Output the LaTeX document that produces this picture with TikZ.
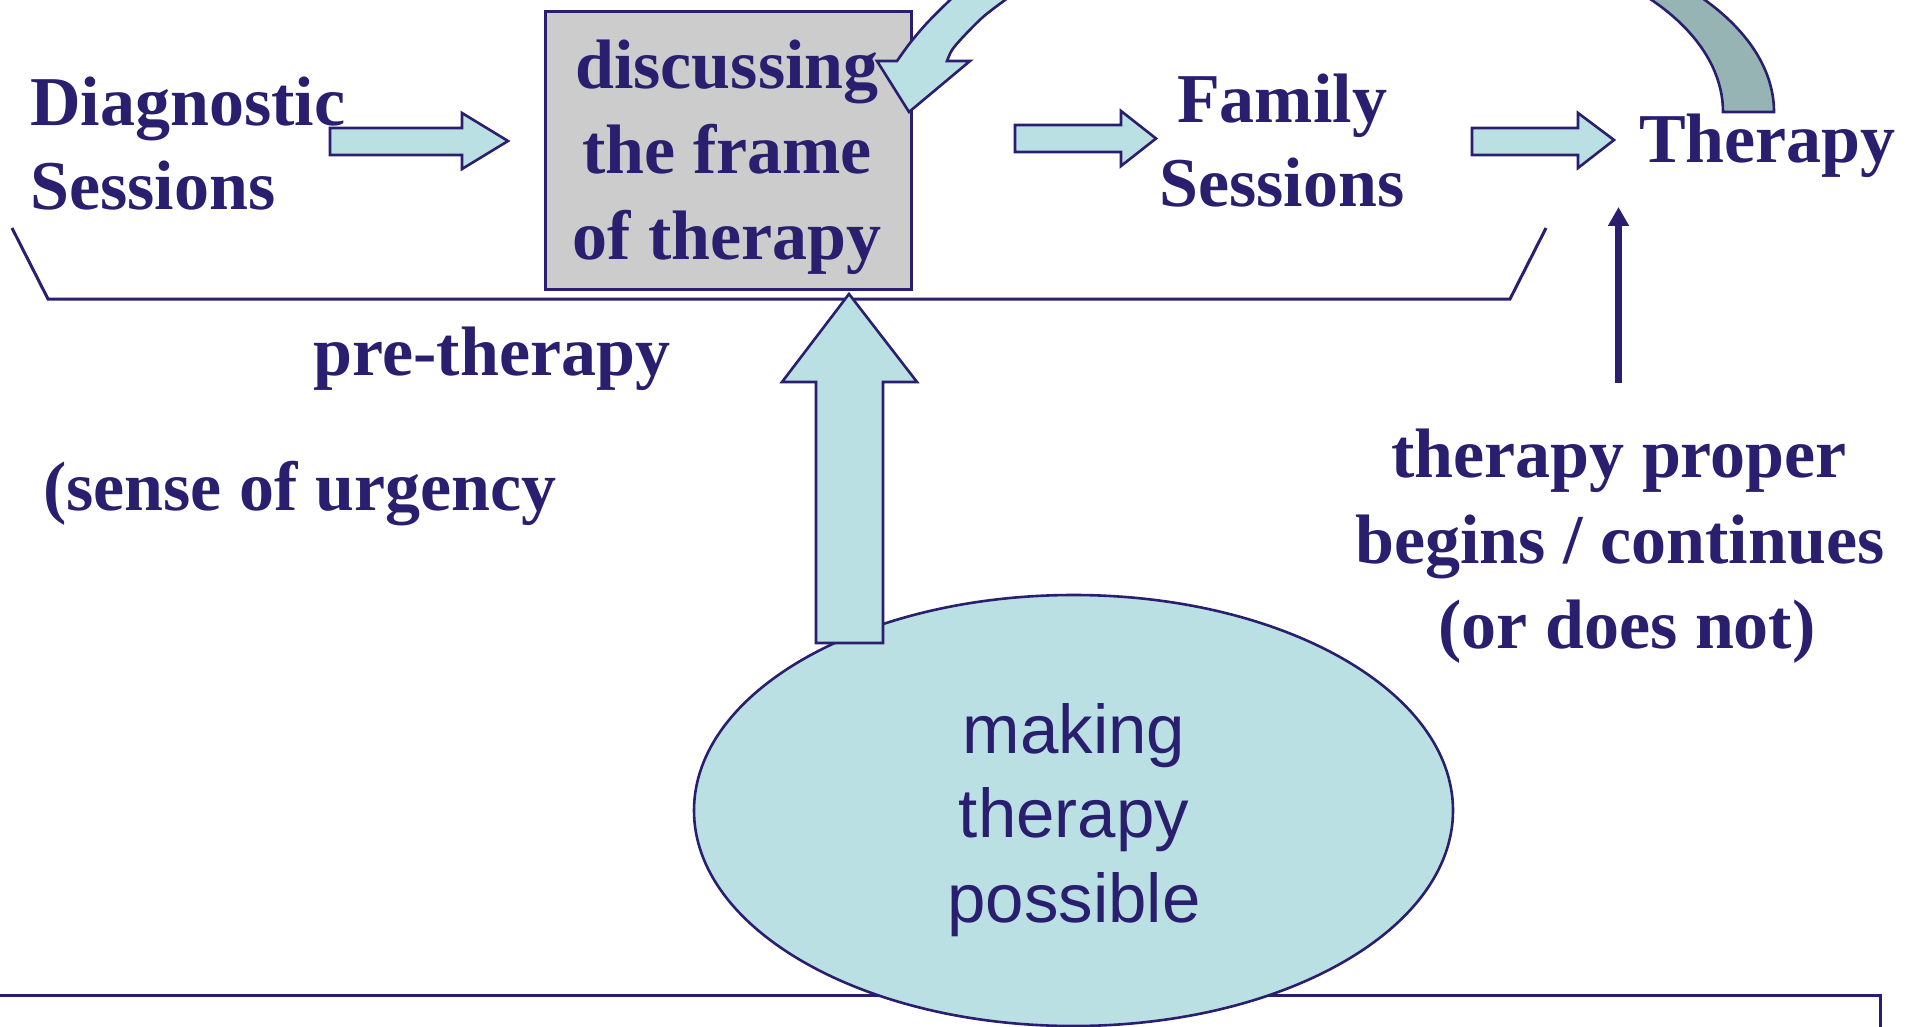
\documentclass[tikz,border=0pt]{standalone}
\usepackage{fontspec}
\setmainfont{Liberation Serif}
\newfontfamily\armsans{Liberation Sans}
\usetikzlibrary{shapes.geometric,arrows.meta}
\definecolor{navy}{HTML}{2A1E6F}
\definecolor{lblue}{HTML}{BAE0E3}
\definecolor{boxgray}{HTML}{CCCCCC}
\definecolor{tealgray}{HTML}{97B4B5}
\begin{document}
\begin{tikzpicture}[x=1pt,y=-1pt,
  serif/.style={font=\bfseries\fontsize{70}{84}\selectfont, text=navy, inner sep=0pt},
  sanstxt/.style={font=\armsans\fontsize{69}{84}\selectfont, text=navy, inner sep=0pt},
  blockarrow/.style={draw=navy, fill=lblue, line width=2.6pt, line join=miter},
  rule/.style={draw=navy, line width=3pt}]
\useasboundingbox (0,0) rectangle (1914,1027);
\clip (0,0) rectangle (1914,1027);
\fill[white] (0,0) rectangle (1914,1027);

% bracket and bottom frame
\coordinate (bl1) at (12,228);
\coordinate (bl2) at (48,299);
\coordinate (br2) at (1510,299);
\coordinate (br1) at (1546,228);
\draw[rule] (bl1) -- (bl2) -- (br2) -- (br1);
\coordinate (fr1) at (-10,995);
\coordinate (fr2) at (1880,995);
\coordinate (fr3) at (1880,1040);
\draw[rule] (fr1) -- (fr2) -- (fr3);

% box
\node[draw=navy, fill=boxgray, line width=2.6pt, minimum width=366pt, minimum height=278pt, anchor=north west, inner sep=0pt] (box) at (544,10) {};
\node[serif, anchor=base] (d1) at (727,89) {discussing};
\node[serif, anchor=base] (d2) at (727,174) {the frame};
\node[serif, anchor=base] (d3) at (727,259) {of therapy};

% texts
\node[serif, anchor=base west] (diag1) at (30,126) {Diagnostic};
\node[serif, anchor=base west] (diag2) at (30,210) {Sessions};
\node[serif, anchor=base] (fam1) at (1282,123) {Family};
\node[serif, anchor=base] (fam2) at (1282,207) {Sessions};
\node[serif, anchor=base west] (ther) at (1639,163) {Therapy};
\node[serif, anchor=base] (pre) at (492,375) {pre-therapy};
\node[serif, anchor=base west] (urg) at (43,510) {(sense of urgency};
\node[serif, anchor=base] (tp1) at (1619,477) {therapy proper};
\node[serif, anchor=base] (tp2) at (1620,563) {begins / continues};
\node[serif, anchor=base] (tp3) at (1627,648) {(or does not)};

% horizontal block arrows
\draw[blockarrow] (330,128) -- (462,128) -- (462,113) -- (508,141) -- (462,169) -- (462,155) -- (330,155) -- cycle;
\draw[blockarrow] (1015,125) -- (1121,125) -- (1121,111) -- (1156,138.5) -- (1121,166) -- (1121,152) -- (1015,152) -- cycle;
\draw[blockarrow] (1472,128) -- (1578,128) -- (1578,113) -- (1614,140) -- (1578,168) -- (1578,155) -- (1472,155) -- cycle;

% curved arrow (left part with head, right tail)
\filldraw[blockarrow] (877,61) -- plot[smooth] coordinates {(897,61) (910,43) (927,23) (950,0) (972,-20)}
  -- plot[smooth] coordinates {(1032,-20) (1005,0) (983,17) (963,37) (952,50) (947,61)}
  -- (970,61) -- (909,112) -- cycle;
\coordinate (tc) at (1423,112);
\filldraw[draw=navy, fill=tealgray, line width=2.6pt]
  (1723,112) arc[start angle=0, end angle=-60, x radius=300, y radius=173]
  -- ([shift={(tc)}]-58:351 and 188) arc[start angle=-58, end angle=0, x radius=351, y radius=188] -- cycle;

% thin arrow
\coordinate (tpb) at (1618.5,383);
\coordinate (tpt) at (1618.5,207);
\draw[navy, line width=7pt, -{Triangle[width=20pt,length=19pt]}] (tpb) -- (tpt);

% ellipse
\node[ellipse, draw=navy, fill=lblue, line width=2.6pt, minimum width=759pt, minimum height=431pt, inner sep=0pt] (ell) at (1073.5,810.5) {};
\node[sanstxt, anchor=base] (m1) at (1074,753) {making};
\node[sanstxt, anchor=base] (m2) at (1074,837) {therapy};
\node[sanstxt, anchor=base] (m3) at (1074,922) {possible};

% big up arrow
\draw[blockarrow] (849,294) -- (917,382) -- (883,382) -- (883,643) -- (816,643) -- (816,382) -- (782,382) -- cycle;
\end{tikzpicture}
\end{document}
